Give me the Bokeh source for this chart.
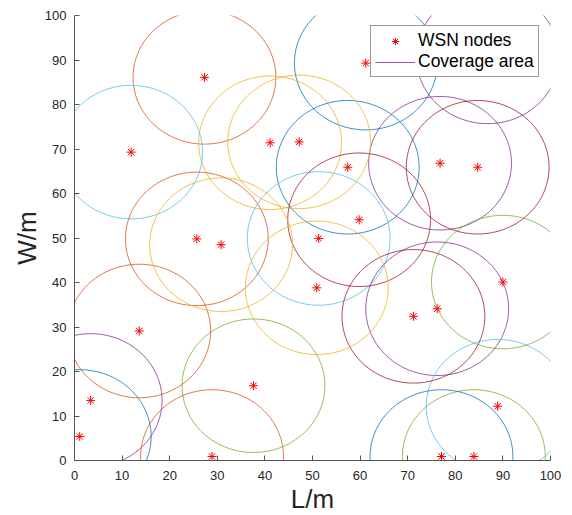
import numpy as np
from bokeh.plotting import figure
from bokeh.models import Range1d, FixedTicker, Legend, LegendItem, ColumnDataSource
from bokeh.embed import file_html
from bokeh.resources import INLINE

# ---- data ----
node_x = [61.2, 27.3, 41.1, 76.8, 37.6, 11.9, 84.7,
          57.4, 25.7, 47.2, 3.4, 90.0, 51.3, 59.8,
          1.1, 13.6, 30.8, 76.2, 83.9, 88.9, 71.2,
          77.1, 28.9, 50.9, 86.8]
node_y = [89.3, 86.1, 71.4, 66.8, 16.8, 69.3, 65.9,
          65.9, 49.8, 71.6, 13.5, 40.1, 49.9, 54.1,
          5.4, 29.1, 48.5, 34.1, 0.9, 12.2, 32.4,
          0.9, 0.9, 38.8, 90.7]
coverage_radius = 15
ticks = [0, 10, 20, 30, 40, 50, 60, 70, 80, 90, 100]
tick_labels = [str(t) for t in ticks]

# ---- style ----
palette = ["#0072BD", "#D95319", "#EDB120", "#7E2F8E",
           "#77AC30", "#4DBEEE", "#A2142F"]
circle_colors = [palette[i % len(palette)] for i in range(len(node_x))]
FONT = "Liberation Sans"

# coverage circles (in data units) built from node positions and radius
theta = np.linspace(0, 2 * np.pi, 241)
circ_xs = [list(cx + coverage_radius * np.cos(theta)) for cx in node_x]
circ_ys = [list(cy + coverage_radius * np.sin(theta)) for cy in node_y]
circ_src = ColumnDataSource(dict(xs=circ_xs, ys=circ_ys, color=circle_colors))

p = figure(frame_width=476, frame_height=445,
           min_border_left=74, min_border_right=14,
           min_border_top=15, min_border_bottom=55,
           x_range=Range1d(0, 100), y_range=Range1d(0, 100),
           output_backend="svg", toolbar_location=None,
           background_fill_color="white", border_fill_color="white")
p.outline_line_color = None
p.grid.visible = False

circles = p.multi_line(xs="xs", ys="ys", line_color="color", source=circ_src,
                       line_width=1, line_alpha=0.8)
nodes = p.scatter(x=node_x, y=node_y, marker="asterisk", size=9,
                  line_color="red", line_width=1)

for ax in (p.xaxis, p.yaxis):
    ax.ticker = FixedTicker(ticks=ticks)
    ax.major_label_overrides = {t: l for t, l in zip(ticks, tick_labels)}
    ax.major_tick_in = 5
    ax.major_tick_out = 0
    ax.minor_tick_line_color = None
    ax.axis_line_color = "#555555"
    ax.major_tick_line_color = "#555555"
    ax.major_label_text_font = FONT
    ax.major_label_text_font_size = "13px"
    ax.major_label_text_color = "#262626"
    ax.axis_label_text_font = FONT
    ax.axis_label_text_font_size = "26px"
    ax.axis_label_text_font_style = "normal"
    ax.axis_label_text_color = "#262626"

p.xaxis.axis_label = "L/m"
p.yaxis.axis_label = "W/m"
p.xaxis.major_label_standoff = 10
p.yaxis.major_label_standoff = 8
p.xaxis.axis_label_standoff = 1
p.yaxis.axis_label_standoff = 0

legend = Legend(items=[LegendItem(label="WSN nodes", renderers=[nodes]),
                       LegendItem(label="Coverage area", renderers=[circles], index=3)],
                location=(296, 383))
legend.label_text_font = FONT
legend.label_text_font_size = "17.5px"
legend.label_text_color = "black"
legend.border_line_color = "#333333"
legend.border_line_width = 1
legend.background_fill_color = "white"
legend.background_fill_alpha = 1
legend.padding = 4
legend.spacing = 0
legend.margin = 0
legend.glyph_width = 40
legend.glyph_height = 18
legend.label_height = 18
legend.label_standoff = 3
p.add_layout(legend)

open("out.html", "w").write(file_html(p, INLINE))
